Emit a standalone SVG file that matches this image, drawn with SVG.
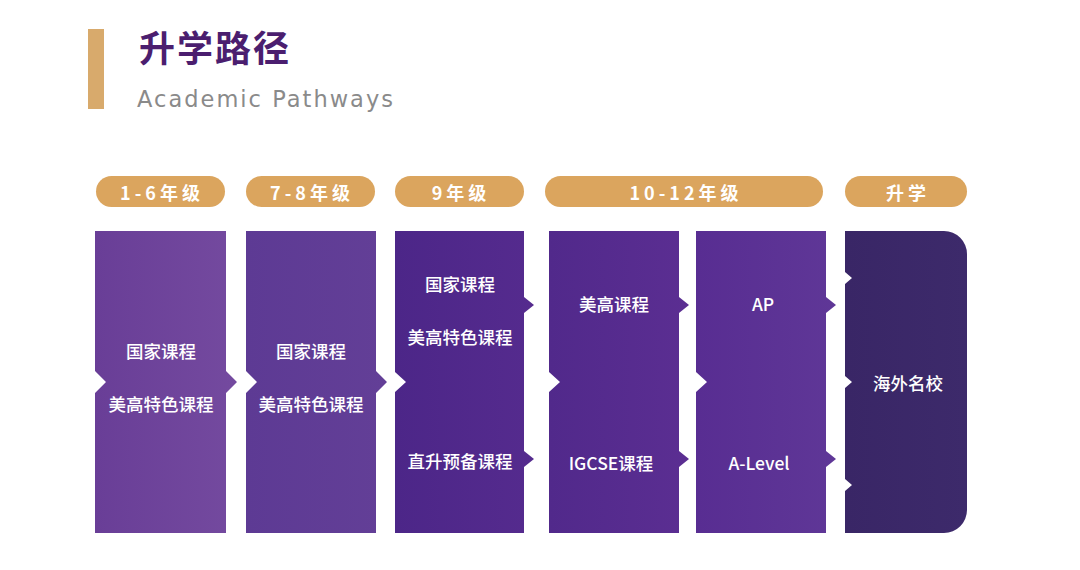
<svg xmlns="http://www.w3.org/2000/svg" width="1080" height="570" viewBox="0 0 1080 570">
  <defs>
    <linearGradient id="g1" x1="0" y1="0" x2="1" y2="0"><stop offset="0" stop-color="#693e97"/><stop offset="1" stop-color="#744a9f"/></linearGradient>
    <linearGradient id="g2" x1="0" y1="0" x2="1" y2="0"><stop offset="0" stop-color="#5d3a94"/><stop offset="1" stop-color="#633f97"/></linearGradient>
    <linearGradient id="g3" x1="0" y1="0" x2="1" y2="0"><stop offset="0" stop-color="#4c2688"/><stop offset="1" stop-color="#552b8e"/></linearGradient>
    <linearGradient id="g4" x1="0" y1="0" x2="1" y2="0"><stop offset="0" stop-color="#51298b"/><stop offset="1" stop-color="#5b2e92"/></linearGradient>
    <linearGradient id="g5" x1="0" y1="0" x2="1" y2="0"><stop offset="0" stop-color="#582d92"/><stop offset="1" stop-color="#5f3797"/></linearGradient>
    <linearGradient id="g6" x1="0" y1="0" x2="1" y2="0"><stop offset="0" stop-color="#392666"/><stop offset="1" stop-color="#3d2a6b"/></linearGradient>
  </defs>
  <style>
    .pill { fill: #dba55e; }
    .pt { fill: #ffffff; font-family: "Noto Sans CJK SC", "Liberation Sans", sans-serif; font-size: 18px; font-weight: 700; letter-spacing: 4px; text-anchor: middle; dominant-baseline: central; }
    .ct { fill: #ffffff; font-family: "Noto Sans CJK SC", "Liberation Sans", sans-serif; font-size: 17.5px; font-weight: 500; text-anchor: middle; dominant-baseline: central; }
  </style>
  <rect width="1080" height="570" fill="#ffffff"/>

  <g id="header">
    <rect x="88" y="29" width="16" height="80" fill="#d8aa6c"/>
    <text x="139" y="62" font-family="Noto Sans CJK SC, sans-serif" font-size="36" font-weight="700" fill="#4b1e6f" letter-spacing="2">升学路径</text>
    <text x="137" y="107" font-family="DejaVu Sans, sans-serif" font-size="22.5" fill="#8a8a8a" textLength="256" lengthAdjust="spacing">Academic Pathways</text>
  </g>

  <g id="stage-labels">
    <g id="pill-1-6"><rect class="pill" x="96" y="176" width="129" height="31" rx="15.5"/><text class="pt" x="162" y="191.5">1-6年级</text></g>
    <g id="pill-7-8"><rect class="pill" x="246" y="176" width="129" height="31" rx="15.5"/><text class="pt" x="312" y="191.5">7-8年级</text></g>
    <g id="pill-9"><rect class="pill" x="395" y="176" width="129" height="31" rx="15.5"/><text class="pt" x="461" y="191.5">9年级</text></g>
    <g id="pill-10-12"><rect class="pill" x="545" y="176" width="278" height="31" rx="15.5"/><text class="pt" x="686" y="191.5">10-12年级</text></g>
    <g id="pill-shengxue"><rect class="pill" x="845" y="176" width="122" height="31" rx="15.5"/><text class="pt" x="908" y="191.5">升学</text></g>
  </g>

  <g id="connectors"></g>

  <g id="col1">
    <path fill="url(#g1)" d="M95,231 H226 V371 L237,382 L226,393 V533 H95 V393 L106,382 L95,371 Z"/>
    <text class="ct" x="161" y="350">国家课程</text>
    <text class="ct" x="161" y="403">美高特色课程</text>
  </g>
  <g id="col2">
    <path fill="url(#g2)" d="M246,231 H376 V371 L387,382 L376,393 V533 H246 V393 L257,382 L246,371 Z"/>
    <text class="ct" x="311" y="350">国家课程</text>
    <text class="ct" x="311" y="403">美高特色课程</text>
  </g>
  <g id="col3">
    <path fill="url(#g3)" d="M395,231 H524 V297 L534,305 L524,313 V451 L534,459 L524,467 V533 H395 V392 L406,382 L395,372 Z"/>
    <text class="ct" x="460" y="283">国家课程</text>
    <text class="ct" x="460" y="336">美高特色课程</text>
    <text class="ct" x="460" y="460">直升预备课程</text>
  </g>
  <g id="col4">
    <path fill="url(#g4)" d="M549,231 H679 V297 L689,305 L679,313 V451 L689,459 L679,467 V533 H549 V392 L560,382 L549,372 Z"/>
    <text class="ct" x="614" y="303">美高课程</text>
    <text class="ct" x="611" y="462">IGCSE课程</text>
  </g>
  <g id="col5">
    <path fill="url(#g5)" d="M696,231 H826 V297 L836,305 L826,313 V451 L836,459 L826,467 V533 H696 V392 L707,382 L696,372 Z"/>
    <text class="ct" x="763" y="303">AP</text>
    <text class="ct" x="759" y="462">A-Level</text>
  </g>
  <g id="col6">
    <path fill="url(#g6)" d="M845,231 H944 A23,23 0 0 1 967,254 V510 A23,23 0 0 1 944,533 H845 V491 L852,485 L845,479 V388 L852,382 L845,376 V284 L852,278 L845,272 Z"/>
    <text class="ct" x="908" y="382">海外名校</text>
  </g>
</svg>
